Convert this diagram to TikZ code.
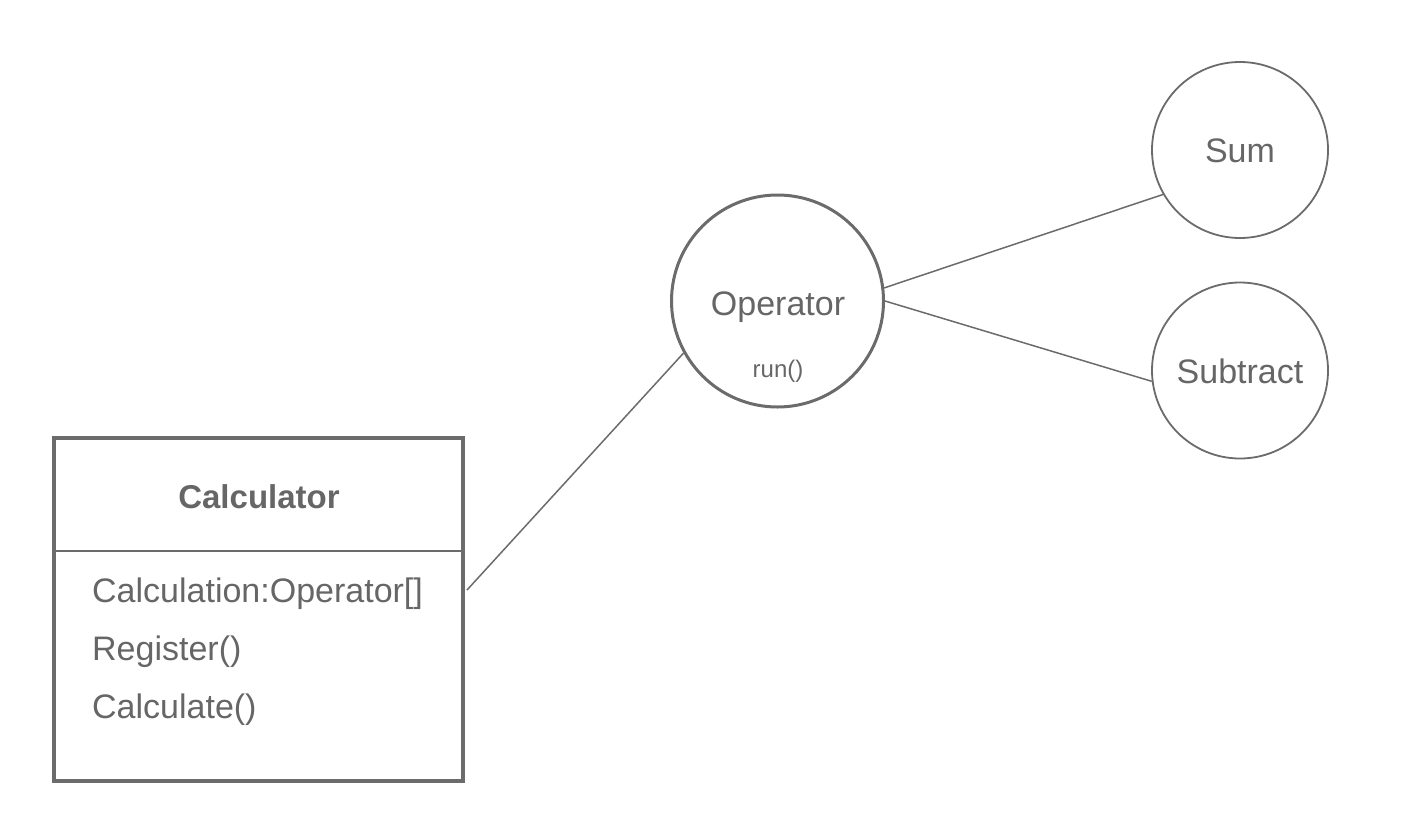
\documentclass[tikz,border=0pt]{standalone}
\usepackage{fontspec}
\setmainfont{Liberation Sans}
\definecolor{ink}{HTML}{6B6B6B}
\definecolor{txt}{HTML}{666666}
\begin{document}
\begin{tikzpicture}[x=1pt,y=-1pt,
  box/.style={draw=ink,line width=4pt,minimum width=409pt,minimum height=343pt,inner sep=0pt},
  bigcirc/.style={circle,draw=ink,line width=3pt,minimum size=212pt,inner sep=0pt},
  smallcirc/.style={circle,draw=ink,line width=1.8pt,minimum size=176pt,inner sep=0pt},
  lbl/.style={text=txt,font=\fontsize{34}{40}\selectfont,inner sep=0pt},
  sml/.style={text=txt,font=\fontsize{24}{28}\selectfont,inner sep=0pt},
  conn/.style={draw=ink,line width=1.5pt}]
\useasboundingbox (0,0) rectangle (1412,822);
\node[box] (calc) at (258.5,609.5) {};
\coordinate (divl) at (54,551);
\coordinate (divr) at (463,551);
\draw[draw=ink,line width=2.5pt] (divl) -- (divr);
\node[lbl,font=\bfseries\fontsize{33}{40}\selectfont,anchor=base] (ctitle) at (259,508) {Calculator};
\node[lbl,anchor=base west] (cf1) at (92,602) {Calculation:Operator[]};
\node[lbl,anchor=base west] (cf2) at (92,660) {Register()};
\node[lbl,anchor=base west] (cf3) at (92,718) {Calculate()};
\node[bigcirc] (op) at (777.5,301) {};
\node[lbl,anchor=base] (optext) at (778,315) {Operator};
\node[sml,anchor=base] (oprun) at (778,377) {run()};
\node[smallcirc] (sum) at (1240,150) {};
\node[lbl,anchor=base] (sumtext) at (1240,162) {Sum};
\node[smallcirc] (sub) at (1240,370.5) {};
\node[lbl,anchor=base] (subtext) at (1240,383) {Subtract};
\draw[conn] ([xshift=2pt,yshift=19.5pt]calc.east) -- (op.209);
\draw[conn] (op.7) -- (sum.210);
\draw[conn] (op.0) -- (sub.187);
\end{tikzpicture}
\end{document}
